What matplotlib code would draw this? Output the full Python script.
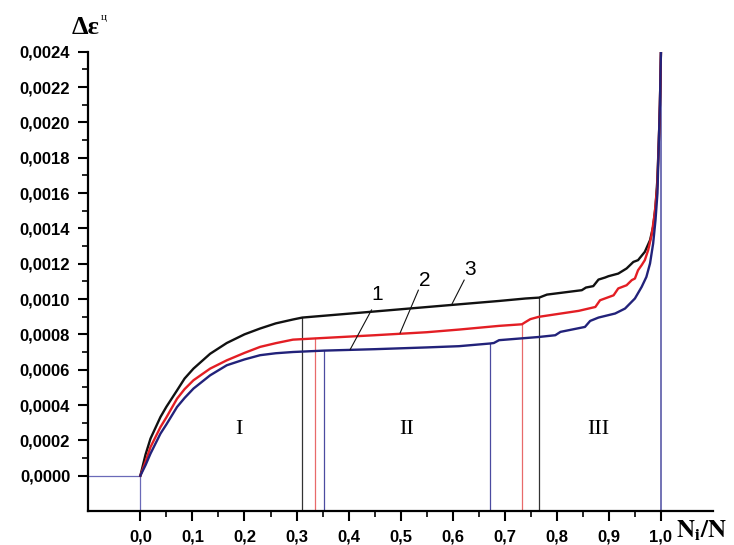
import numpy as np
import matplotlib
matplotlib.use("Agg")
import matplotlib.pyplot as plt
from matplotlib.ticker import FixedLocator

plt.rcParams['mathtext.fontset'] = 'stix'

# curve 3 (black)
x3 = [0, 0.01, 0.0195, 0.0386, 0.05, 0.0705, 0.085, 0.102, 0.134, 0.166, 0.2, 0.23, 0.26,
      0.293, 0.311, 0.4, 0.5, 0.6, 0.689, 0.74, 0.766, 0.781, 0.848, 0.856, 0.87, 0.88,
      0.893, 0.899, 0.918, 0.934, 0.947, 0.956, 0.969, 0.979, 0.985, 0.9895, 0.993,
      0.996, 0.998, 1.0]
y3 = [0, 0.00012, 0.00021, 0.000332, 0.00039, 0.000483, 0.00055, 0.000606, 0.00069,
      0.000751, 0.0008, 0.000833, 0.000862, 0.000884, 0.000895, 0.000917, 0.000942,
      0.000967, 0.000989, 0.001003, 0.001008, 0.001025, 0.00105, 0.001065, 0.001073,
      0.00111, 0.001122, 0.001129, 0.001144, 0.001173, 0.00121, 0.00122, 0.001267,
      0.001333, 0.001409, 0.001522, 0.00167, 0.0019, 0.0021, 0.0024]

# curve 2 (red)
x2 = [0, 0.01, 0.0195, 0.0386, 0.05, 0.0705, 0.085, 0.102, 0.134, 0.166, 0.2, 0.23, 0.26,
      0.293, 0.336, 0.45, 0.55, 0.612, 0.689, 0.733, 0.74, 0.749, 0.765, 0.842, 0.874,
      0.883, 0.909, 0.918, 0.934, 0.944, 0.95, 0.956, 0.963, 0.969, 0.9755, 0.982,
      0.988, 0.993, 0.996, 0.998, 1.0]
y2 = [0, 0.00008, 0.000162, 0.000275, 0.00033, 0.000436, 0.00049, 0.00054, 0.000606,
      0.000653, 0.000695, 0.000729, 0.00075, 0.00077, 0.000777, 0.000795, 0.000812,
      0.000827, 0.000848, 0.000857, 0.00087, 0.000886, 0.000899, 0.000933, 0.000955,
      0.000993, 0.001021, 0.00106, 0.001078, 0.001107, 0.001116, 0.001163, 0.001192,
      0.00122, 0.001277, 0.001361, 0.001484, 0.00164, 0.0019, 0.0021, 0.0024]

# curve 1 (blue)
x1 = [0, 0.01, 0.0195, 0.0386, 0.05, 0.0705, 0.085, 0.102, 0.134, 0.166, 0.2, 0.23, 0.26,
      0.293, 0.353, 0.45, 0.55, 0.612, 0.671, 0.679, 0.689, 0.765, 0.797, 0.807, 0.854,
      0.864, 0.88, 0.912, 0.931, 0.95, 0.963, 0.972, 0.979, 0.985, 0.9895, 0.9933,
      0.996, 0.998, 1.0]
y1 = [0, 0.00006, 0.000125, 0.000238, 0.00029, 0.000389, 0.00044, 0.000493, 0.000568,
      0.000625, 0.000658, 0.000682, 0.000693, 0.0007, 0.000708, 0.000716, 0.000726,
      0.000733, 0.000748, 0.000751, 0.000767, 0.000785, 0.000795, 0.000814, 0.000842,
      0.000876, 0.000895, 0.000918, 0.000946, 0.001003, 0.001069, 0.001125, 0.001201,
      0.001314, 0.001446, 0.0016, 0.0019, 0.0021, 0.0024]

# stage boundaries: x, height, colour of the thin vertical line
bound_x = [0.311, 0.336, 0.353, 0.671, 0.733, 0.766]
bound_y = [0.000895, 0.000777, 0.000708, 0.000748, 0.000857, 0.001008]
bound_c = ['#333333', '#e86a6a', '#4b4ba0', '#4b4ba0', '#e86a6a', '#333333']

# curve numbers: label position and leader line end points
num_labels = ['1', '2', '3']
num_x = [0.4545, 0.546, 0.633]
num_y = [0.001024, 0.001107, 0.001166]
lead_x0 = [0.444, 0.534, 0.622]
lead_y0 = [0.000938, 0.00105, 0.001107]
lead_x1 = [0.403, 0.499, 0.599]
lead_y1 = [0.000714, 0.000808, 0.000974]

stage_labels = ['I', 'II', 'III']
stage_x = [0.19, 0.512, 0.88]
stage_y = 0.00026

yticks = [0, 0.0002, 0.0004, 0.0006, 0.0008, 0.0010, 0.0012, 0.0014, 0.0016, 0.0018,
          0.0020, 0.0022, 0.0024]
ylabels = ['0,0000', '0,0002', '0,0004', '0,0006', '0,0008', '0,0010', '0,0012',
           '0,0014', '0,0016', '0,0018', '0,0020', '0,0022', '0,0024']
xticks = [0.0, 0.1, 0.2, 0.3, 0.4, 0.5, 0.6, 0.7, 0.8, 0.9, 1.0]
xlabels = ['0,0', '0,1', '0,2', '0,3', '0,4', '0,5', '0,6', '0,7', '0,8', '0,9', '1,0']

fig = plt.figure(figsize=(7.34, 5.45), dpi=100)
ax = fig.add_axes([0.1203, 0.0624, 0.8511, 0.8427])

ax.plot([-0.1, 0], [0, 0], color='#6a6ab8', lw=0.9)
ax.plot([0, 0], [-0.0002, 0], color='#6a6ab8', lw=0.9)
ax.plot([1.0, 1.0], [-0.0002, 0.0024], color='#4b4ba0', lw=1.1)
for bx, by, bc in zip(bound_x, bound_y, bound_c):
    ax.plot([bx, bx], [-0.0002, by], color=bc, lw=0.9)

ax.plot(x3, y3, color='#111111', lw=1.7)
ax.plot(x2, y2, color='#e31e24', lw=1.7)
ax.plot(x1, y1, color='#22227a', lw=1.7)

for i in range(3):
    ax.plot([lead_x0[i], lead_x1[i]], [lead_y0[i], lead_y1[i]], color='#111111', lw=0.8)
    ax.text(num_x[i], num_y[i], num_labels[i], fontsize=15, family='Liberation Sans',
            ha='center', va='center')

for lab, sx in zip(stage_labels, stage_x):
    ax.text(sx, stage_y, lab, fontsize=16, family='Liberation Serif', ha='center', va='center')

ax.set_xlim(-0.1, 1.1)
ax.set_ylim(-0.0002, 0.0024)
ax.spines['top'].set_visible(False)
ax.spines['right'].set_visible(False)
ax.spines['left'].set_linewidth(1.6)
ax.spines['bottom'].set_linewidth(1.6)

ax.yaxis.set_major_locator(FixedLocator(yticks))
ax.set_yticklabels(ylabels)
ax.yaxis.set_minor_locator(FixedLocator([0.0001 + 0.0002 * i for i in range(12)]))
ax.xaxis.set_major_locator(FixedLocator(xticks))
ax.set_xticklabels(xlabels)
ax.xaxis.set_minor_locator(FixedLocator([0.05 + 0.1 * i for i in range(10)]))
ax.tick_params(which='major', direction='out', length=7, width=1.5, pad=6)
ax.tick_params(which='minor', direction='out', length=4, width=1.2)
for lbl in ax.get_xticklabels() + ax.get_yticklabels():
    lbl.set_fontfamily('Liberation Sans')
    lbl.set_fontweight('bold')
    lbl.set_fontsize(12)

fig.text(72 / 734, 1 - 28 / 545, 'Δε', fontsize=19, family='Liberation Serif',
         fontweight='bold', ha='left', va='center')
fig.text(101 / 734, 1 - 18 / 545, 'ц', fontsize=8, family='Liberation Serif',
         ha='left', va='center')
fig.text(676 / 734, 1 - 531 / 545, r'$\mathbf{N_i/N}$', fontsize=18, ha='left', va='center')

fig.savefig('out.png', dpi=100)
